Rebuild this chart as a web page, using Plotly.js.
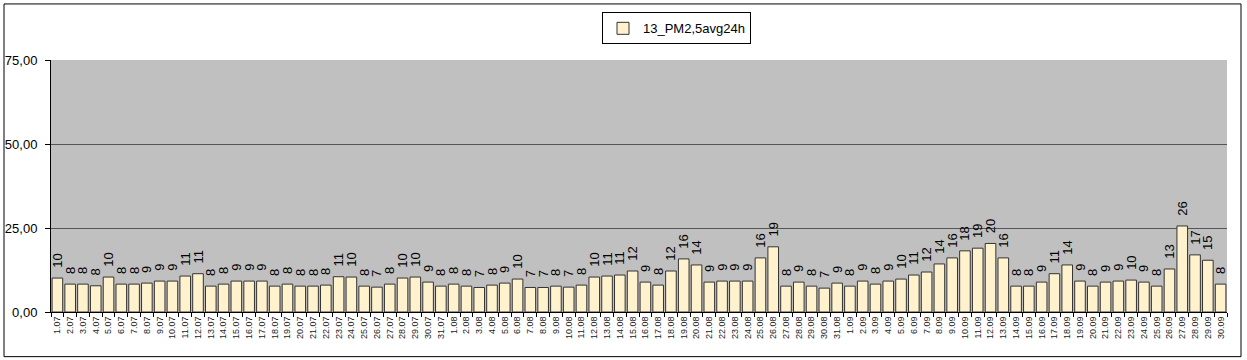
<!DOCTYPE html>
<html><head><meta charset="utf-8">
<script src="https://cdn.plot.ly/plotly-3.0.1.min.js"></script>
<style>html,body{margin:0;padding:0;background:#fff}#chart{width:1247px;height:360px}</style>
</head><body><div id="chart"></div>
<script>
const dates = [
"1.07","2.07","3.07","4.07","5.07","6.07","7.07","8.07","9.07","10.07","11.07","12.07","13.07","14.07","15.07","16.07","17.07","18.07","19.07","20.07","21.07","22.07","23.07","24.07","25.07","26.07","27.07","28.07","29.07","30.07","31.07",
"1.08","2.08","3.08","4.08","5.08","6.08","7.08","8.08","9.08","10.08","11.08","12.08","13.08","14.08","15.08","16.08","17.08","18.08","19.08","20.08","21.08","22.08","23.08","24.08","25.08","26.08","27.08","28.08","29.08","30.08","31.08",
"1.09","2.09","3.09","4.09","5.09","6.09","7.09","8.09","9.09","10.09","11.09","12.09","13.09","14.09","15.09","16.09","17.09","18.09","19.09","20.09","21.09","22.09","23.09","24.09","25.09","26.09","27.09","28.09","29.09","30.09"];
const pm25 = [
10.1,8.3,8.3,7.8,10.4,8.3,8.3,8.6,9.2,9.2,10.7,11.4,7.7,8.3,9.2,9.2,9.2,7.7,8.3,7.7,7.7,8.0,10.5,10.4,7.7,7.4,8.3,10.1,10.4,8.9,7.7,
8.3,7.7,7.3,8.0,8.6,9.8,7.3,7.3,7.7,7.4,8.0,10.4,10.7,11.0,12.2,8.9,8.0,12.2,15.8,14.0,8.9,9.2,9.2,9.2,16.1,19.4,7.7,8.9,7.7,7.1,8.6,
7.7,9.2,8.3,9.2,9.8,11.0,11.9,14.3,16.1,18.2,19.0,20.4,16.1,7.7,7.7,8.9,11.4,14.0,9.2,7.7,8.9,9.2,9.5,8.9,7.7,12.8,25.6,17.0,15.4,8.3];
const seriesName = "13_PM2,5avg24h";
const yTicks = [0,25,50,75];

const ml=51, mr=20, mt=58, mb=48, W=1247, H=360;
const pw=W-ml-mr, ph=H-mt-mb;
const px=x=>(x-ml)/pw, py=y=>(H-mb-y)/ph;

Plotly.newPlot('chart',[{
  type:'bar', x:dates, y:pm25, name:seriesName,
  marker:{color:'#fff2cc', line:{color:'#333', width:1}},
  text:pm25.map(v=>'\u00A0\u00A0'+Math.round(v)), textposition:'outside', textangle:-90,
  textfont:{family:'Liberation Sans, Arial, sans-serif', size:13, color:'#000'},
  constraintext:'none', cliponaxis:false, hoverinfo:'x+y'
}],{
  width:W, height:H, margin:{l:ml,r:mr,t:mt,b:mb,pad:0},
  paper_bgcolor:'#fff', plot_bgcolor:'#c0c0c0',
  separators:', ', bargap:0.17, showlegend:true,
  font:{family:'Liberation Sans, Arial, sans-serif', color:'#000'},
  legend:{x:px(602), xanchor:'left', y:py(10), yanchor:'top', bgcolor:'#fff', bordercolor:'#000', borderwidth:1,
    font:{size:13}, orientation:'h', itemwidth:30},
  xaxis:{type:'category', showline:true, linecolor:'#000', linewidth:1, ticks:'outside', tickson:'boundaries', ticklen:4, tickcolor:'#000',
    tickangle:-90, tickfont:{size:9, color:'#222'}, showgrid:false, automargin:false, fixedrange:true},
  yaxis:{range:[0,75], tickvals:yTicks, tickformat:'.2f', showline:true, linecolor:'#000', linewidth:1, ticks:'outside', ticklen:5, tickcolor:'#000',
    ticklabelstandoff:5, tickfont:{size:13}, showgrid:true, gridcolor:'#555', gridwidth:1, zeroline:false, automargin:false, fixedrange:true},
  shapes:[{type:'rect', xref:'paper', yref:'paper', x0:px(4), x1:px(1241), y0:py(357), y1:py(1.5), line:{color:'#000', width:1}, fillcolor:'rgba(0,0,0,0)', layer:'below'}]
},{staticPlot:true});
</script></body></html>
